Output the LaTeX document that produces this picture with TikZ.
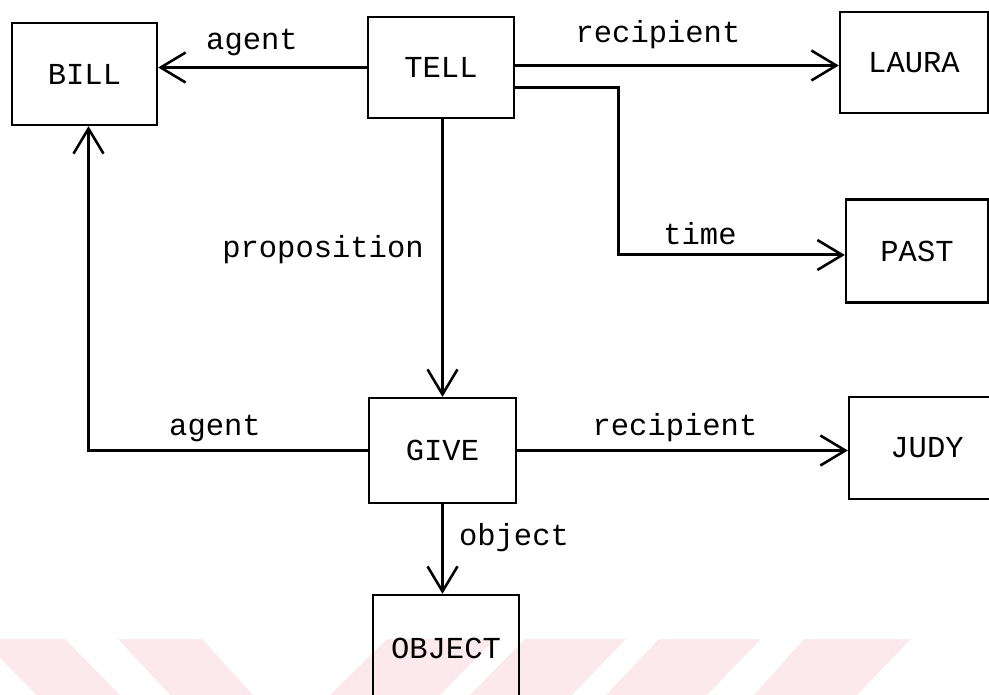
\documentclass[tikz,border=0pt]{standalone}
\usepackage{fontspec}
\setmonofont{Liberation Mono}
\usetikzlibrary{arrows.meta,calc}
\definecolor{wm}{RGB}{252,233,237}
\begin{document}
\begin{tikzpicture}[x=1pt,y=-1pt,
  box/.style={draw,line width=2.2pt,inner sep=0pt,font=\ttfamily\fontsize{30.5}{32}\selectfont},
  lab/.style={inner sep=0pt,font=\ttfamily\fontsize{30.5}{32}\selectfont},
  conn/.style={line width=3pt,line join=miter},
  arr/.style={conn,-{Straight Barb[length=25pt,width=30pt,line width=2.6pt]}}]
\clip (0,0) rectangle (989,695);
% watermark stripes
\fill[wm] (-19,639) -- (65,639) -- (120,695) -- (37,695) -- cycle;
\fill[wm] (118,639) -- (202,639) -- (253,695) -- (170,695) -- cycle;
\fill[wm] (387,639) -- (495,639) -- (440,695) -- (330,695) -- cycle;
\fill[wm] (525,639) -- (626,639) -- (572,695) -- (470,695) -- cycle;
\fill[wm] (659,639) -- (761,639) -- (707,695) -- (606,695) -- cycle;
\fill[wm] (804,639) -- (911,639) -- (857,695) -- (754,695) -- cycle;
% boxes
\node[box,minimum width=145pt,minimum height=102pt] (BILL) at (84.5,74) {BILL};
\node[box,minimum width=146pt,minimum height=101pt] (TELL) at (441,67.5) {TELL};
\node[box,minimum width=148pt,minimum height=101pt] (LAURA) at (914,62.5) {LAURA};
\node[box,minimum width=142pt,minimum height=103pt] (PAST) at (917,251) {PAST};
\node[box,minimum width=147pt,minimum height=105pt] (GIVE) at (442.5,450.5) {GIVE};
\node[box,minimum width=156pt,minimum height=102pt] (JUDY) at (927,448) {JUDY};
\node[box,minimum width=146pt,minimum height=106pt] (OBJECT) at (446,648) {OBJECT};
\coordinate (tcorner) at (618,255);
% connectors
\draw[arr] (TELL.west) -- (TELL.west -| BILL.east);
\draw[arr] ([yshift=2pt]TELL.east) -- ([yshift=2pt]TELL.east -| LAURA.west);
\draw[arr] ([yshift=-20pt]TELL.east) -| (tcorner) -- ([yshift=-4pt]PAST.west);
\draw[arr] (GIVE.north |- TELL.south) -- (GIVE.north);
\draw[arr] (GIVE.west) -| ([xshift=4pt]BILL.south);
\draw[arr] (GIVE.east) -- (GIVE.east -| JUDY.west);
\draw[arr] (GIVE.south) -- (GIVE.south |- OBJECT.north);
% labels
\node[lab] (l1) at (252,43) {agent};
\node[lab] (l2) at (658,35) {recipient};
\node[lab] (l3) at (323,250) {proposition};
\node[lab] (l4) at (700,234) {time};
\node[lab] (l5) at (215,428) {agent};
\node[lab] (l6) at (675,428) {recipient};
\node[lab] (l7) at (514,538) {object};
\end{tikzpicture}
\end{document}
